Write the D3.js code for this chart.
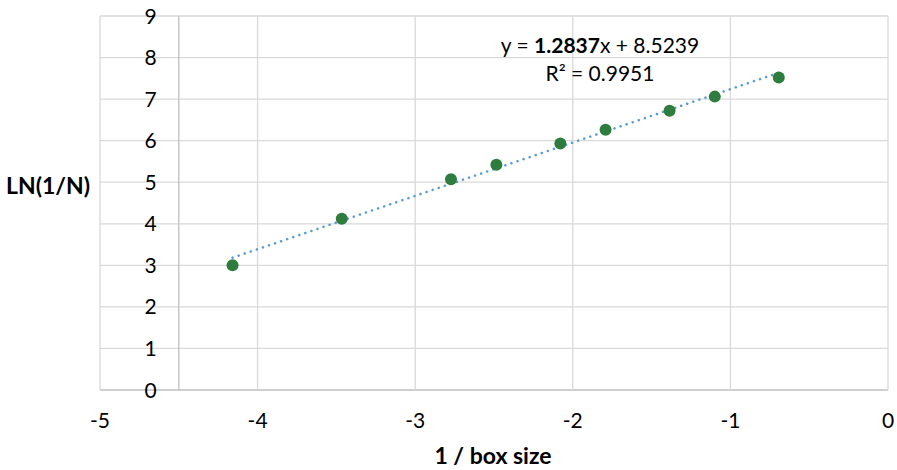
<!DOCTYPE html>
<html>
<head>
<meta charset="utf-8">
<script src="https://cdn.jsdelivr.net/npm/d3@7"></script>
<style>
  body { margin: 0; background: #fff; }
  svg text { font-family: Lato, "Open Sans", sans-serif; fill: #000; }
</style>
</head>
<body>
<div id="graphicContainer"></div>
<script>

// values
const xValues = [-4.159, -3.466, -2.773, -2.485, -2.079, -1.792, -1.386, -1.099, -0.693]
const yValues = [3.00, 4.12, 5.07, 5.42, 5.93, 6.26, 6.72, 7.06, 7.52]
const xTicks = [-5, -4, -3, -2, -1, 0]
const yTicks = [0, 1, 2, 3, 4, 5, 6, 7, 8, 9]
const slope = 1.2837
const intercept = 8.5239
const rSquared = "0.9951"

const width = 897
const height = 470
const margin = { left: 100, right: 9, top: 16, bottom: 80 }
const fontSize = "21px"

const svg = d3.select("#graphicContainer").append("svg")
  .attr("width", width)
  .attr("height", height)

const x = d3.scaleLinear()
  .domain([-5, 0])
  .range([margin.left, width - margin.right])

const y = d3.scaleLinear()
  .domain([0, 9])
  .range([height - margin.bottom, margin.top])

// gridlines
svg.append("g")
  .selectAll("line")
  .data(yTicks)
  .enter()
  .append("line")
  .attr("x1", x(-5))
  .attr("x2", x(0))
  .attr("y1", (d) => y(d))
  .attr("y2", (d) => y(d))
  .attr("stroke", (d) => d === 0 ? "#bfbfbf" : "#d9d9d9")
  .attr("stroke-width", 1.3)

svg.append("g")
  .selectAll("line")
  .data(xTicks)
  .enter()
  .append("line")
  .attr("x1", (d) => x(d))
  .attr("x2", (d) => x(d))
  .attr("y1", y(0))
  .attr("y2", y(9))
  .attr("stroke", "#d9d9d9")
  .attr("stroke-width", 1.3)

// vertical axis crosses at -4.5
svg.append("line")
  .attr("x1", x(-4.5))
  .attr("x2", x(-4.5))
  .attr("y1", y(0))
  .attr("y2", y(9))
  .attr("stroke", "#bfbfbf")
  .attr("stroke-width", 1.3)

// tick labels
svg.append("g")
  .selectAll("text")
  .data(yTicks)
  .enter()
  .append("text")
  .attr("x", x(-4.5) - 22)
  .attr("y", (d) => y(d))
  .attr("dy", "0.36em")
  .attr("text-anchor", "end")
  .style("font-size", fontSize)
  .text((d) => d)

svg.append("g")
  .selectAll("text")
  .data(xTicks)
  .enter()
  .append("text")
  .attr("x", (d) => x(d))
  .attr("y", y(0) + 30)
  .attr("dy", "0.36em")
  .attr("text-anchor", "middle")
  .style("font-size", fontSize)
  .text((d) => d)

// axis titles
svg.append("text")
  .attr("x", 493)
  .attr("y", 456)
  .attr("dy", "0.36em")
  .attr("text-anchor", "middle")
  .style("font-size", "23px")
  .style("font-weight", "bold")
  .text("1 / box size")

svg.append("text")
  .attr("x", 6)
  .attr("y", 186)
  .attr("dy", "0.36em")
  .style("font-size", "23px")
  .style("font-weight", "bold")
  .text("LN(1/N)")

// trendline
const xMin = d3.min(xValues)
const xMax = d3.max(xValues)

svg.append("line")
  .attr("x1", x(xMin))
  .attr("y1", y(slope * xMin + intercept))
  .attr("x2", x(xMax))
  .attr("y2", y(slope * xMax + intercept))
  .attr("stroke", "#5b9bd5")
  .attr("stroke-width", 2.5)
  .attr("stroke-linecap", "round")
  .attr("stroke-dasharray", "0.1, 6.3")

// points
svg.append("g")
  .selectAll("circle")
  .data(xValues)
  .enter()
  .append("circle")
  .attr("cx", (d) => x(d))
  .attr("cy", (d, i) => y(yValues[i]))
  .attr("r", 6)
  .style("fill", "#2e7d3f")

// equation label
const eq = svg.append("text")
  .attr("x", 600)
  .attr("y", 45)
  .attr("dy", "0.36em")
  .attr("text-anchor", "middle")
  .style("font-size", fontSize)

eq.append("tspan").text("y = ")
eq.append("tspan").style("font-weight", "bold").text(slope.toFixed(4))
eq.append("tspan").text(`x + ${intercept.toFixed(4)}`)

svg.append("text")
  .attr("x", 600)
  .attr("y", 73)
  .attr("dy", "0.36em")
  .attr("text-anchor", "middle")
  .style("font-size", fontSize)
  .text(`R² = ${rSquared}`)

</script>
</body>
</html>
